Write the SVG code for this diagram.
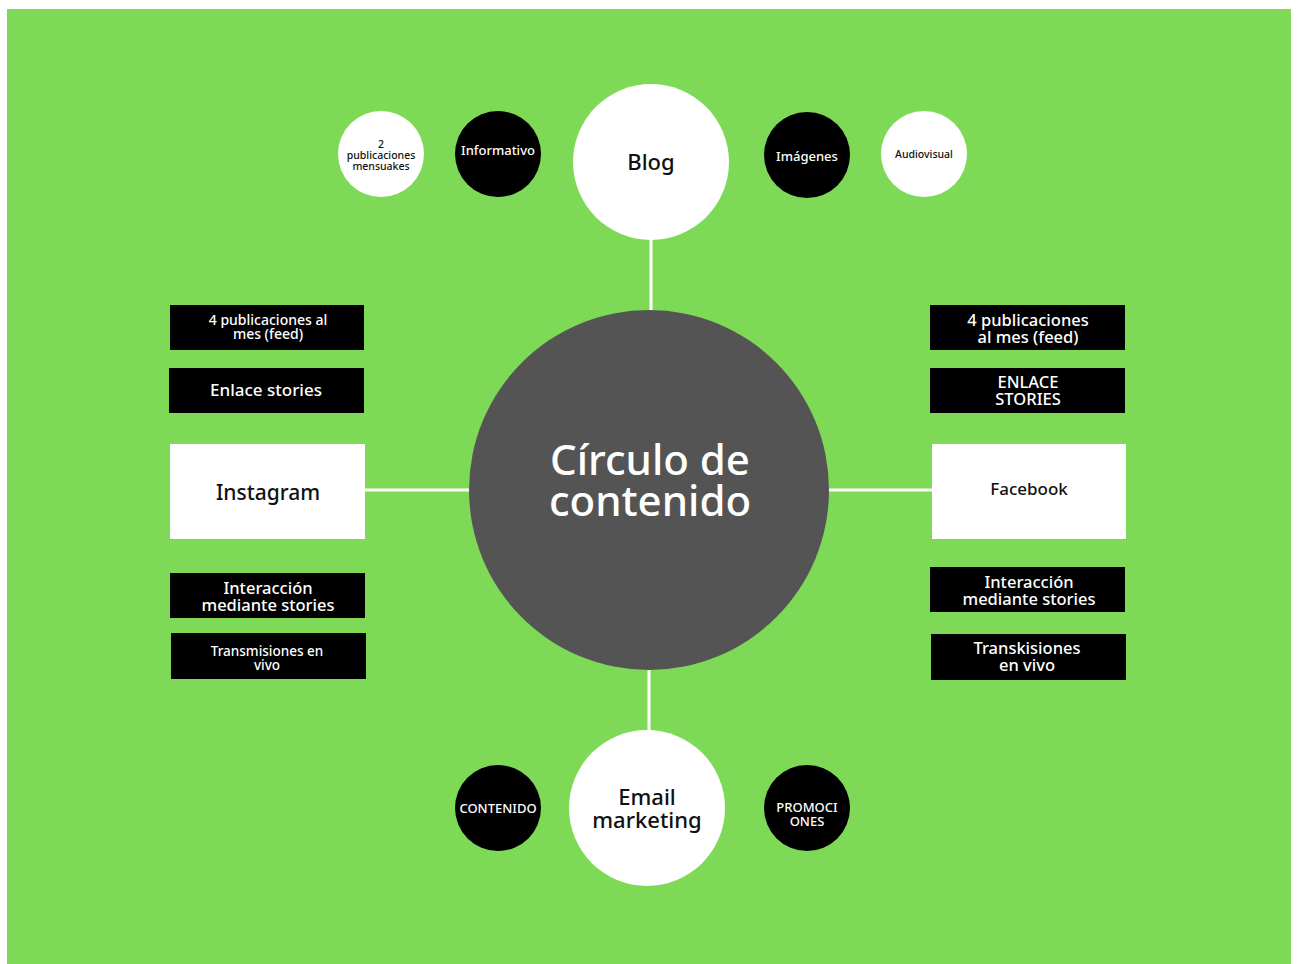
<svg xmlns="http://www.w3.org/2000/svg" width="1297" height="964" viewBox="0 0 1297 964">
<style>
text{font-family:"Noto Sans","Open Sans","Liberation Sans",sans-serif;font-weight:500;text-anchor:middle;}
.w{fill:#ffffff;}
.b{fill:#000000;}
.tw{fill:#ffffff;}
.tb{fill:#111111;}
.ln{stroke:#ffffff;stroke-width:3;fill:none;}
</style>
<rect x="0" y="0" width="1297" height="964" fill="#ffffff"/>
<rect x="7" y="9" width="1284" height="955" fill="#7ED957"/>
<g id="connectors">
<line class="ln" x1="651" y1="238" x2="651" y2="312"/>
<line class="ln" x1="649" y1="670" x2="649" y2="733"/>
<line class="ln" x1="364" y1="490" x2="470" y2="490"/>
<line class="ln" x1="828" y1="490" x2="933" y2="490"/>
</g>
<g id="center">
<circle cx="649" cy="490" r="180" fill="#545454"/>
<text class="tw" x="650" y="475" font-size="42">Círculo de</text>
<text class="tw" x="650" y="516" font-size="42">contenido</text>
</g>
<g id="blog">
<circle class="w" cx="651" cy="162" r="78"/>
<text class="tb" x="651" y="170" font-size="22">Blog</text>
</g>
<g id="pub2">
<circle class="w" cx="381" cy="154" r="43"/>
<text class="tb" x="381" y="148" font-size="10.5">2</text>
<text class="tb" x="381" y="159" font-size="10.5">publicaciones</text>
<text class="tb" x="381" y="170" font-size="10.5">mensuakes</text>
</g>
<g id="informativo">
<circle class="b" cx="498" cy="154" r="43"/>
<text class="tw" x="498" y="155" font-size="13">Informativo</text>
</g>
<g id="imagenes">
<circle class="b" cx="807" cy="155" r="43"/>
<text class="tw" x="807" y="161" font-size="13">Imágenes</text>
</g>
<g id="audiovisual">
<circle class="w" cx="924" cy="154" r="43"/>
<text class="tb" x="924" y="158" font-size="10.5">Audiovisual</text>
</g>
<g id="instagram">
<rect class="w" x="170" y="444" width="195" height="95"/>
<text class="tb" x="268" y="500" font-size="21">Instagram</text>
</g>
<g id="facebook">
<rect class="w" x="932" y="444" width="194" height="95"/>
<text class="tb" x="1029" y="495" font-size="17">Facebook</text>
</g>
<g id="ig-pub">
<rect class="b" x="170" y="305" width="194" height="45"/>
<text class="tw" x="268" y="325" font-size="14">4 publicaciones al</text>
<text class="tw" x="268" y="339" font-size="14">mes (feed)</text>
</g>
<g id="ig-enlace">
<rect class="b" x="169" y="368" width="195" height="45"/>
<text class="tw" x="266" y="396" font-size="17">Enlace stories</text>
</g>
<g id="ig-interaccion">
<rect class="b" x="170" y="573" width="195" height="45"/>
<text class="tw" x="268" y="594" font-size="16.5">Interacción</text>
<text class="tw" x="268" y="611" font-size="16.5">mediante stories</text>
</g>
<g id="ig-transmisiones">
<rect class="b" x="171" y="633" width="195" height="46"/>
<text class="tw" x="267" y="656" font-size="13.5">Transmisiones en</text>
<text class="tw" x="267" y="670" font-size="13.5">vivo</text>
</g>
<g id="fb-pub">
<rect class="b" x="930" y="305" width="195" height="45"/>
<text class="tw" x="1028" y="326" font-size="16.5">4 publicaciones</text>
<text class="tw" x="1028" y="343" font-size="16.5">al mes (feed)</text>
</g>
<g id="fb-enlace">
<rect class="b" x="930" y="368" width="195" height="45"/>
<text class="tw" x="1028" y="388" font-size="16.5">ENLACE</text>
<text class="tw" x="1028" y="405" font-size="16.5">STORIES</text>
</g>
<g id="fb-interaccion">
<rect class="b" x="930" y="567" width="195" height="45"/>
<text class="tw" x="1029" y="588" font-size="16.5">Interacción</text>
<text class="tw" x="1029" y="605" font-size="16.5">mediante stories</text>
</g>
<g id="fb-transkisiones">
<rect class="b" x="931" y="634" width="195" height="46"/>
<text class="tw" x="1027" y="654" font-size="16.5">Transkisiones</text>
<text class="tw" x="1027" y="671" font-size="16.5">en vivo</text>
</g>
<g id="email">
<circle class="w" cx="647" cy="808" r="78"/>
<text class="tb" x="647" y="805" font-size="22">Email</text>
<text class="tb" x="647" y="828" font-size="22">marketing</text>
</g>
<g id="contenido">
<circle class="b" cx="498" cy="808" r="43"/>
<text class="tw" x="498" y="813" font-size="13">CONTENIDO</text>
</g>
<g id="promociones">
<circle class="b" cx="807" cy="808" r="43"/>
<text class="tw" x="807" y="812" font-size="13">PROMOCI</text>
<text class="tw" x="807" y="826" font-size="13">ONES</text>
</g>
</svg>
